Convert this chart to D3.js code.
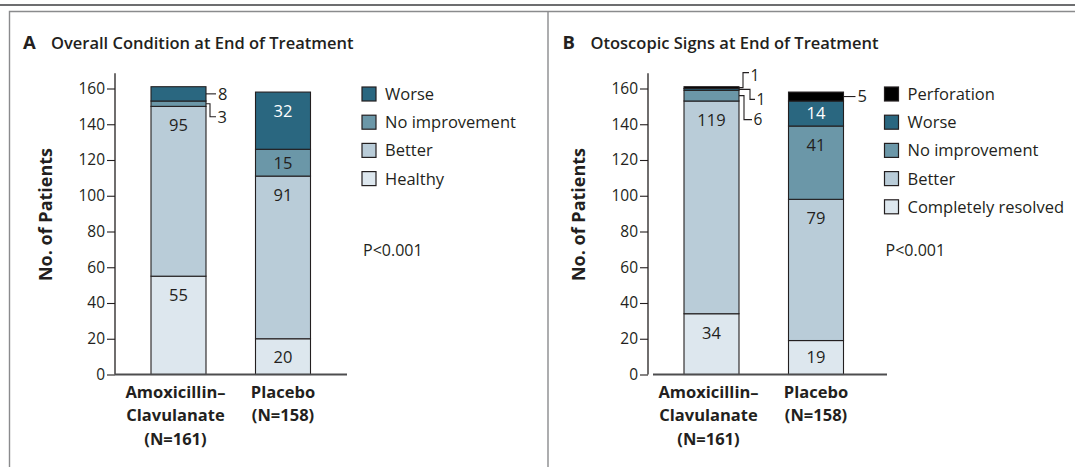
<!DOCTYPE html>
<html><head><meta charset="utf-8">
<script src="https://cdn.jsdelivr.net/npm/d3@7"></script>
<style>
html,body{margin:0;padding:0;background:#fff;}
text{font-family:"Open Sans","Noto Sans",sans-serif;fill:#231f20;}
</style></head>
<body><svg id="chart" width="1075" height="467"></svg>
<script>
// ---------- data ----------
const groups = ["Amoxicillin–Clavulanate", "Placebo"];
const groupLabelLines = [["Amoxicillin–", "Clavulanate", "(N=161)"], ["Placebo", "(N=158)"]];
const yTicks = [0, 20, 40, 60, 80, 100, 120, 140, 160];

const seriesA = ["Healthy", "Better", "No improvement", "Worse"];
const amoxA = [55, 95, 3, 8];
const placeboA = [20, 91, 15, 32];

const seriesB = ["Completely resolved", "Better", "No improvement", "Worse", "Perforation"];
const amoxB = [34, 119, 6, 1, 1];
const placeboB = [19, 79, 41, 14, 5];

const pValueA = "P<0.001";
const pValueB = "P<0.001";
const titleA = "Overall Condition at End of Treatment";
const titleB = "Otoscopic Signs at End of Treatment";
const yTitle = "No. of Patients";

// ---------- styles ----------
const colorMap = {
  "Healthy": "#dde7ee", "Completely resolved": "#dde7ee",
  "Better": "#b9ccd8", "No improvement": "#6b97a8",
  "Worse": "#2a6780", "Perforation": "#000000"
};
const whiteText = {"Worse": true};
const ink = "#231f20";
const groupLabelShift = [-3, 0];

const svg = d3.select("#chart");

// frame
svg.append("line").attr("x1", 0).attr("x2", 1075).attr("y1", 5).attr("y2", 5)
  .attr("stroke", "#6d6e70").attr("stroke-width", 2.2);
svg.append("path").attr("d", "M9.5,467 V11.5 H1075").attr("fill", "none").attr("stroke", "#8a8b8d").attr("stroke-width", 1.4);
svg.append("line").attr("x1", 548).attr("x2", 548).attr("y1", 11.5).attr("y2", 467).attr("stroke", "#8a8b8d").attr("stroke-width", 1.4);

function drawPanel(cfg) {
  const g = svg.append("g").attr("transform", `translate(${cfg.dx},0)`);
  const axisX = 115;
  const y = d3.scaleLinear().domain([0, 160]).range([374.5, 88.5]);
  const x = d3.scaleBand().domain(groups).range([115, 346.5]).paddingInner(0.4737).paddingOuter(0.3445);

  // title
  const tg = svg.append("g").attr("transform", `translate(${cfg.titleX},0)`);
  tg.append("text").attr("x", 0).attr("y", 48.5).attr("font-size", 18.5).attr("font-weight", 700).text(cfg.letter);
  tg.append("text").attr("x", 28).attr("y", 48.5).attr("font-size", 16.5).attr("font-weight", 600).text(cfg.title);

  // stacked data
  const rows = groups.map((grp, i) => {
    const o = {group: grp};
    cfg.series.forEach((s, j) => o[s] = cfg.values[i][j]);
    return o;
  });
  const stacked = d3.stack().keys(cfg.series)(rows);

  // bars
  stacked.forEach(layer => {
    g.append("g").selectAll("rect").data(layer).join("rect")
      .attr("x", d => x(d.data.group))
      .attr("width", x.bandwidth())
      .attr("y", d => y(d[1]))
      .attr("height", d => y(d[0]) - y(d[1]))
      .attr("fill", colorMap[layer.key])
      .attr("stroke", ink).attr("stroke-width", 1.1);
  });

  // inside labels
  stacked.forEach(layer => {
    layer.forEach(d => {
      const v = d[1] - d[0];
      if (v < 10) return;
      const top = y(d[1]), h = y(d[0]) - y(d[1]);
      const cy = top + Math.min(h / 2, 19);
      g.append("text").attr("x", x(d.data.group) + x.bandwidth() / 2).attr("y", cy)
        .attr("dy", "0.36em").attr("text-anchor", "middle").attr("font-size", 16.5)
        .style("fill", whiteText[layer.key] ? "#fff" : ink).text(v);
    });
  });

  // outside annotations
  cfg.annotations.forEach(a => {
    const layer = stacked[cfg.series.indexOf(a.key)];
    const d = layer[groups.indexOf(a.group)];
    const x0 = x(a.group) + x.bandwidth();
    const y0 = y((d[0] + d[1]) / 2);
    const ly = y0 + a.dy;
    let path, tx;
    if (a.dy === 0) { path = `M${x0},${y0} H${x0 + a.bx}`; tx = x0 + a.bx + 2; }
    else { path = `M${x0},${y0} H${x0 + a.bx} V${ly} H${x0 + a.bx + a.hx}`; tx = x0 + a.bx + a.hx + 1.5; }
    g.append("path").attr("d", path).attr("fill", "none").attr("stroke", ink).attr("stroke-width", 1.1);
    g.append("text").attr("x", tx).attr("y", ly + (a.ty || 0)).attr("dy", "0.36em")
      .attr("font-size", a.fs || 16.5).text(d[1] - d[0]);
  });

  // y axis
  const ax = g.append("g").attr("transform", `translate(${axisX},0)`)
    .call(d3.axisLeft(y).tickValues(yTicks).tickSize(8).tickPadding(2));
  ax.select(".domain").remove();
  ax.selectAll("line").attr("stroke", ink).attr("stroke-width", 1.1);
  ax.selectAll("text").attr("font-size", 15.5).attr("font-family", "Open Sans").style("fill", ink);
  g.append("line").attr("x1", axisX).attr("x2", axisX).attr("y1", y(168.5)).attr("y2", y(0))
    .attr("stroke", ink).attr("stroke-width", 1.3);
  g.append("line").attr("x1", axisX + cfg.baseGap).attr("x2", cfg.baseEnd).attr("y1", y(0)).attr("y2", y(0))
    .attr("stroke", "#4d4d4f").attr("stroke-width", 2);

  // y title
  g.append("text").attr("transform", `translate(52,${(y(0) + y(160)) / 2 - 17}) rotate(-90)`)
    .attr("text-anchor", "middle").attr("font-size", 18).attr("font-weight", 700).text(yTitle);

  // group labels
  groups.forEach((grp, i) => {
    const t = g.append("text").attr("text-anchor", "middle").attr("font-size", 16.5).attr("font-weight", 700);
    groupLabelLines[i].forEach((ln, k) => {
      t.append("tspan").attr("x", x(grp) + x.bandwidth() / 2 + groupLabelShift[i]).attr("y", 397.5 + k * 23.5).text(ln);
    });
  });

  // legend
  const leg = g.append("g");
  const order = cfg.series.slice().reverse();
  order.forEach((s, k) => {
    const cy = 94 + k * 28.2;
    leg.append("rect").attr("x", cfg.legX).attr("y", cy - 7).attr("width", 14).attr("height", 14)
      .attr("fill", colorMap[s]).attr("stroke", ink).attr("stroke-width", 1.2);
    leg.append("text").attr("x", cfg.legX + 23).attr("y", cy).attr("dy", "0.36em")
      .attr("font-size", 16.5).text(s);
  });
  g.append("text").attr("x", cfg.legX + 1).attr("y", 250.5).attr("dy", "0.36em").attr("font-size", 16).text(cfg.p);
}

drawPanel({
  dx: 0, titleX: 23, letter: "A", title: titleA, series: seriesA, values: [amoxA, placeboA],
  legX: 362, p: pValueA, baseGap: 0, baseEnd: 347,
  annotations: [
    {group: groups[0], key: "Worse", bx: 10, dy: 0},
    {group: groups[0], key: "No improvement", bx: 4, hx: 6, dy: 13}
  ]
});
drawPanel({
  dx: 533, titleX: 562.5, letter: "B", title: titleB, series: seriesB, values: [amoxB, placeboB],
  legX: 351.5, p: pValueB, baseGap: 5, baseEnd: 354,
  annotations: [
    {group: groups[0], key: "Perforation", bx: 4, hx: 6, dy: -15, ty: 3, fs: 15.5},
    {group: groups[0], key: "Worse", bx: 11, hx: 5, dy: 10, fs: 15.5},
    {group: groups[0], key: "No improvement", bx: 5, hx: 8, dy: 24, fs: 15.5}
  ].concat([{group: groups[1], key: "Perforation", bx: 12, dy: 0}])
});
</script></body></html>
